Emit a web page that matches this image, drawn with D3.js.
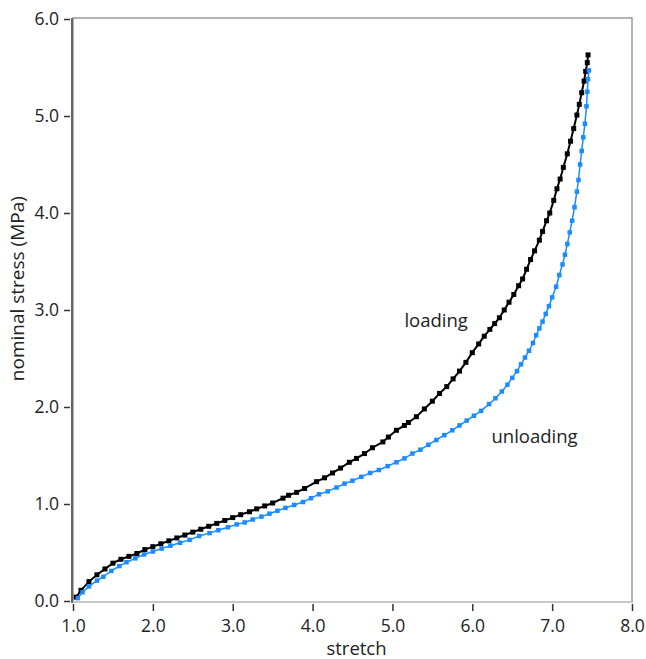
<!DOCTYPE html>
<html>
<head>
<meta charset="utf-8">
<script src="https://cdn.jsdelivr.net/npm/d3@7/dist/d3.min.js"></script>
<style>
  body { margin: 0; background: #fff; }
  svg { font-family: "Open Sans", "Noto Sans", sans-serif; }
</style>
</head>
<body>
<svg id="chart" width="646" height="659"></svg>
<script>
"use strict";

// loading curve (stretch, nominal stress in MPa)
const loadStretch = [
  1.04, 1.1, 1.2, 1.3, 1.4, 1.5, 1.6, 1.7, 1.8, 1.9, 2.0, 2.1, 2.2, 2.3, 2.4,
  2.5, 2.6, 2.7, 2.8, 2.9, 3.0, 3.1, 3.21, 3.3, 3.4, 3.5, 3.63, 3.7, 3.8, 3.9,
  4.05, 4.15, 4.25, 4.35, 4.46, 4.55, 4.65, 4.75, 4.88, 4.95, 5.05, 5.15, 5.2,
  5.3, 5.4, 5.5, 5.59, 5.68, 5.76, 5.84, 5.92, 6.0, 6.08, 6.15, 6.22, 6.28,
  6.34, 6.4, 6.46, 6.52, 6.58, 6.63, 6.68, 6.73, 6.78, 6.84, 6.88, 6.93, 6.97,
  7.02, 7.06, 7.1, 7.14, 7.19, 7.23, 7.27, 7.31, 7.34, 7.37, 7.4, 7.42, 7.44,
  7.45,
];
const loadStress = [
  0.04, 0.11, 0.2, 0.27, 0.33, 0.39, 0.43, 0.46, 0.49, 0.53, 0.56, 0.59, 0.62,
  0.65, 0.68, 0.71, 0.74, 0.77, 0.8, 0.83, 0.86, 0.89, 0.92, 0.95, 0.98, 1.01,
  1.06, 1.09, 1.12, 1.16, 1.23, 1.27, 1.32, 1.37, 1.43, 1.47, 1.52, 1.58, 1.64,
  1.69, 1.76, 1.81, 1.84, 1.9, 1.98, 2.06, 2.14, 2.21, 2.29, 2.37, 2.46, 2.56,
  2.65, 2.73, 2.8, 2.86, 2.92, 3.0, 3.08, 3.16, 3.25, 3.32, 3.42, 3.52, 3.61,
  3.72, 3.81, 3.92, 4.0, 4.13, 4.25, 4.35, 4.47, 4.61, 4.74, 4.87, 5.01, 5.12,
  5.24, 5.36, 5.46, 5.55, 5.63,
];

// unloading curve
const unloadStretch = [
  1.06, 1.12, 1.2, 1.3, 1.38, 1.48, 1.58, 1.67, 1.78, 1.89, 2.0, 2.11, 2.22,
  2.34, 2.46, 2.58, 2.71, 2.82, 2.94, 3.05, 3.15, 3.25, 3.36, 3.46, 3.56, 3.66,
  3.77, 3.88, 3.98, 4.08, 4.19, 4.3, 4.4, 4.5, 4.61, 4.72, 4.83, 4.94, 5.05,
  5.15, 5.25, 5.35, 5.45, 5.55, 5.65, 5.75, 5.84, 5.93, 6.02, 6.11, 6.21, 6.29,
  6.37, 6.44, 6.5, 6.56, 6.61, 6.66, 6.71, 6.76, 6.8, 6.84, 6.88, 6.92, 6.96,
  7.0, 7.05, 7.09, 7.13, 7.16, 7.19, 7.22, 7.25, 7.28, 7.31, 7.33, 7.35, 7.37,
  7.39, 7.41, 7.43, 7.44, 7.45, 7.46,
];
const unloadStress = [
  0.03, 0.09, 0.15, 0.21, 0.25, 0.31, 0.36, 0.4, 0.44, 0.48, 0.51, 0.54, 0.57,
  0.6, 0.63, 0.67, 0.7, 0.73, 0.76, 0.79, 0.81, 0.84, 0.87, 0.9, 0.93, 0.96,
  0.99, 1.02, 1.06, 1.1, 1.13, 1.17, 1.21, 1.24, 1.28, 1.32, 1.35, 1.39, 1.43,
  1.47, 1.52, 1.56, 1.61, 1.66, 1.71, 1.76, 1.81, 1.86, 1.91, 1.96, 2.03, 2.09,
  2.16, 2.23, 2.3, 2.37, 2.44, 2.51, 2.58, 2.66, 2.74, 2.81, 2.88, 2.96, 3.04,
  3.13, 3.24, 3.36, 3.47, 3.57, 3.68, 3.8, 3.92, 4.06, 4.22, 4.34, 4.5, 4.64,
  4.78, 4.92, 5.1, 5.25, 5.38, 5.47,
];

const xTicks = [1, 2, 3, 4, 5, 6, 7, 8];
const yTicks = [0, 1, 2, 3, 4, 5, 6];

const margin = { top: 19, right: 14, bottom: 58, left: 73 };
const width = 646 - margin.left - margin.right;
const height = 659 - margin.top - margin.bottom;

const svg = d3.select("#chart");
const graph = svg
  .append("g")
  .attr("transform", `translate(${margin.left},${margin.top})`);

const x = d3.scaleLinear().domain([1, 8]).range([0, width]);
const y = d3.scaleLinear().domain([0, 6]).range([height, 0]);

// frame
graph
  .append("rect")
  .attr("x", 0)
  .attr("y", -1)
  .attr("width", width)
  .attr("height", height + 2)
  .attr("fill", "none")
  .attr("stroke", "#9a9a9a")
  .attr("stroke-width", 1.5);
graph
  .append("line")
  .attr("x1", 0)
  .attr("x2", width)
  .attr("y1", height + 1)
  .attr("y2", height + 1)
  .attr("stroke", "#c8c8c8")
  .attr("stroke-width", 2);

const styleAxis = (g) => {
  g.select(".domain").remove();
  g.attr("font-family", null).attr("font-size", null);
  g.selectAll(".tick line").attr("stroke", "#333").attr("stroke-width", 1.5);
  g.selectAll(".tick text").attr("fill", "#222").attr("font-size", 17.5);
};

const xAxis = d3
  .axisBottom(x)
  .tickValues(xTicks)
  .tickSize(7)
  .tickPadding(9)
  .tickFormat(d3.format(".1f"));
graph
  .append("g")
  .attr("transform", `translate(0,${height + 3})`)
  .call(xAxis)
  .call(styleAxis);

const yAxis = d3
  .axisLeft(y)
  .tickValues(yTicks)
  .tickSize(6)
  .tickPadding(5)
  .tickFormat(d3.format(".1f"));
graph
  .append("g")
  .attr("transform", "translate(-3,0)")
  .call(yAxis)
  .call(styleAxis);

// left axis line is darker than the rest of the frame
graph
  .append("line")
  .attr("x1", -1)
  .attr("x2", -1)
  .attr("y1", -1)
  .attr("y2", height + 2)
  .attr("stroke", "#666")
  .attr("stroke-width", 2);

// axis titles
svg
  .append("text")
  .attr("x", margin.left + x(4.55))
  .attr("y", 655)
  .attr("text-anchor", "middle")
  .attr("font-size", 18.5)
  .attr("fill", "#222")
  .text("stretch");
svg
  .append("text")
  .attr("transform", `translate(24,${margin.top + y(3.22)}) rotate(-90)`)
  .attr("text-anchor", "middle")
  .attr("font-size", 19)
  .attr("fill", "#222")
  .text("nominal stress (MPa)");

const series = [
  { xs: loadStretch, ys: loadStress, color: "#000000", size: 5, lw: 2 },
  { xs: unloadStretch, ys: unloadStress, color: "#1a8cff", size: 4.5, lw: 1.5 },
];

const line = d3
  .line()
  .x((d) => x(d[0]))
  .y((d) => y(d[1]));

series.forEach((s) => {
  const pts = s.xs.map((v, i) => [v, s.ys[i]]);
  graph
    .append("path")
    .datum(pts)
    .attr("fill", "none")
    .attr("stroke", s.color)
    .attr("stroke-width", s.lw)
    .attr("d", line);
  graph
    .append("g")
    .selectAll("rect")
    .data(pts)
    .join("rect")
    .attr("x", (d) => x(d[0]) - s.size / 2)
    .attr("y", (d) => y(d[1]) - s.size / 2)
    .attr("width", s.size)
    .attr("height", s.size)
    .attr("fill", s.color);
});

// curve labels
graph
  .append("text")
  .attr("x", x(5.15))
  .attr("y", y(2.82))
  .attr("font-size", 18.5)
  .attr("fill", "#222")
  .text("loading");
graph
  .append("text")
  .attr("x", x(6.24))
  .attr("y", y(1.63))
  .attr("font-size", 18.5)
  .attr("fill", "#222")
  .text("unloading");
</script>
</body>
</html>
